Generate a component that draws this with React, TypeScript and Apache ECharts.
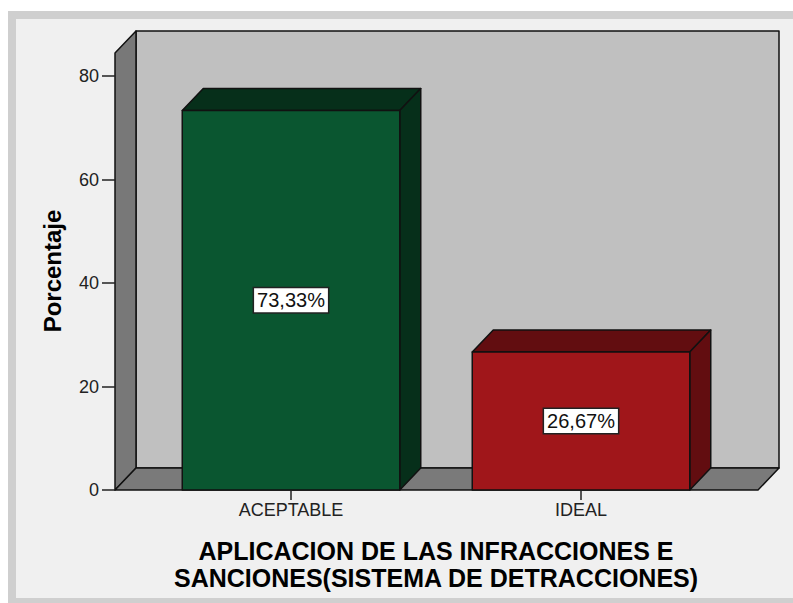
import React, { useEffect, useRef } from "react";
import * as echarts from "echarts";

const categories = ["ACEPTABLE", "IDEAL"];
const percentages = [73.33, 26.67];
const yTicks = [0, 20, 40, 60, 80];

const FONT = "'Liberation Sans', Arial, sans-serif";
const frontColors = ["#0a5630", "#a0161a"];
const darkColors = ["#062f1a", "#620d10"];
const DX = 21;
const DY = 22;

export default function App() {
  const ref = useRef<HTMLDivElement>(null);
  useEffect(() => {
    if (!ref.current) return;
    const chart = echarts.init(ref.current, null, { renderer: "svg" });
    const yMax = yTicks[yTicks.length - 1];
    const option: any = {
      animation: false,
      backgroundColor: "#ffffff",
      graphic: [
        {
          type: "rect",
          z: -10,
          silent: true,
          shape: { x: 12, y: 15, width: 800, height: 587 },
          style: { fill: "#f0f0f0", stroke: "#cfcfcf", lineWidth: 8 },
        },
      ],
      grid: { left: 146, right: 67, top: 76, bottom: 113, containLabel: false },
      xAxis: {
        type: "category",
        data: categories,
        axisLine: { show: false },
        axisTick: {
          show: true,
          alignWithLabel: true,
          length: 10,
          lineStyle: { color: "#222", width: 1.5 },
        },
        axisLabel: { fontFamily: FONT, fontSize: 18, color: "#222", margin: 11 },
        name: "APLICACION DE LAS INFRACCIONES E\nSANCIONES(SISTEMA DE DETRACCIONES)",
        nameLocation: "middle",
        nameGap: 47,
        nameTextStyle: {
          fontFamily: FONT,
          fontSize: 25,
          fontWeight: "bold",
          color: "#000",
          lineHeight: 27,
        },
        z: 10,
      },
      yAxis: {
        type: "value",
        min: 0,
        max: yMax,
        interval: 20,
        offset: 31,
        splitLine: { show: false },
        axisLine: { show: false },
        axisTick: { show: true, length: 13, lineStyle: { color: "#222", width: 1.5 } },
        axisLabel: { fontFamily: FONT, fontSize: 18, color: "#222", margin: 16 },
        name: "Porcentaje",
        nameLocation: "middle",
        nameGap: 51,
        nameRotate: 90,
        nameTextStyle: {
          fontFamily: FONT,
          fontSize: 24,
          fontWeight: "bold",
          color: "#000",
          padding: [0, 0, 0, 24],
        },
        z: 10,
      },
      series: [
        {
          type: "custom",
          z: 1,
          silent: true,
          data: [[0, 0]],
          renderItem: (params: any, api: any) => {
            const cs = params.coordSys;
            const y0 = api.coord([0, 0])[1];
            const yTop = api.coord([0, yMax])[1] - 23;
            const xl = cs.x - 31;
            const xr = cs.x + cs.width + 32;
            const stroke = { stroke: "#111", lineWidth: 1.5, lineJoin: "round" };
            return {
              type: "group",
              children: [
                {
                  type: "rect",
                  shape: { x: xl + DX, y: yTop - DY, width: xr - xl, height: y0 - yTop },
                  style: { fill: "#c0c0c0", ...stroke },
                },
                {
                  type: "polygon",
                  shape: {
                    points: [
                      [xl, y0],
                      [xl, yTop],
                      [xl + DX, yTop - DY],
                      [xl + DX, y0 - DY],
                    ],
                  },
                  style: { fill: "#787878", ...stroke },
                },
                {
                  type: "polygon",
                  shape: {
                    points: [
                      [xl, y0],
                      [xr, y0],
                      [xr + DX, y0 - DY],
                      [xl + DX, y0 - DY],
                    ],
                  },
                  style: { fill: "#7a7a7a", ...stroke },
                },
              ],
            };
          },
        },
        {
          type: "custom",
          z: 5,
          data: percentages.map((v, i) => [i, v]),
          renderItem: (params: any, api: any) => {
            const idx = api.value(0);
            const val = api.value(1);
            const top = api.coord([idx, val]);
            const base = api.coord([idx, 0]);
            const w = api.size([1, 0])[0] * 0.75;
            const x1 = top[0] - w / 2;
            const x2 = top[0] + w / 2;
            const yT = top[1];
            const yB = base[1];
            const stroke = { stroke: "#111", lineWidth: 1.5, lineJoin: "round" };
            const labelText = val.toFixed(2).replace(".", ",") + "%";
            return {
              type: "group",
              children: [
                {
                  type: "polygon",
                  shape: {
                    points: [
                      [x1, yT],
                      [x1 + DX, yT - DY],
                      [x2 + DX, yT - DY],
                      [x2, yT],
                    ],
                  },
                  style: { fill: darkColors[idx], ...stroke },
                },
                {
                  type: "polygon",
                  shape: {
                    points: [
                      [x2, yT],
                      [x2 + DX, yT - DY],
                      [x2 + DX, yB - DY],
                      [x2, yB],
                    ],
                  },
                  style: { fill: darkColors[idx], ...stroke },
                },
                {
                  type: "rect",
                  shape: { x: x1, y: yT, width: w, height: yB - yT },
                  style: { fill: frontColors[idx], ...stroke },
                },
                {
                  type: "text",
                  x: top[0],
                  y: (yT + yB) / 2,
                  style: {
                    text: labelText,
                    fontFamily: FONT,
                    fontSize: 20,
                    lineHeight: 21,
                    fill: "#111",
                    align: "center",
                    verticalAlign: "middle",
                    backgroundColor: "#ffffff",
                    borderColor: "#222",
                    borderWidth: 1.5,
                    padding: [2, 3, 1, 3],
                  },
                },
              ],
            };
          },
        },
      ],
    };
    chart.setOption(option);
    return () => chart.dispose();
  }, []);
  return (
    <div
      ref={ref}
      style={{ position: "absolute", left: 0, top: 0, width: 793, height: 603 }}
    />
  );
}
